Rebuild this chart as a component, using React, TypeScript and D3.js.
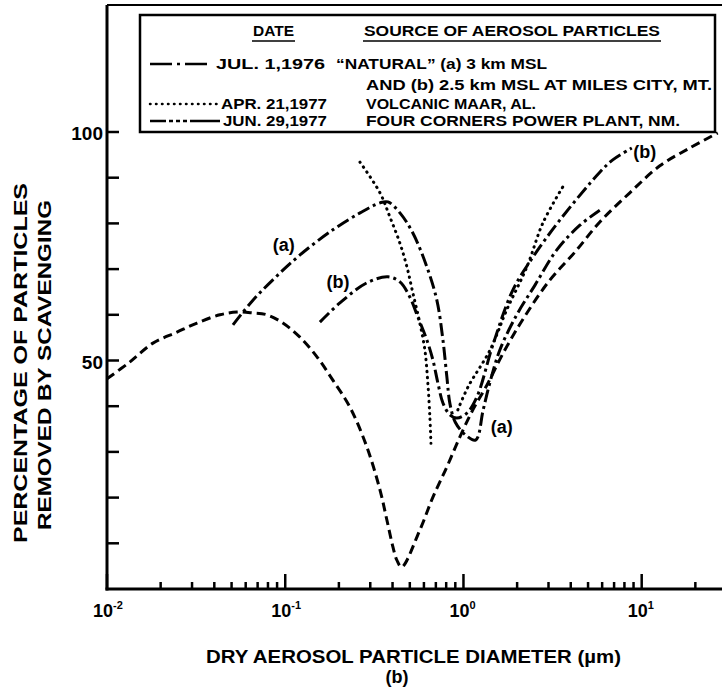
import React from "react";
import * as d3 from "d3";

// ---- data (diameter in µm, percentage removed) ----
const xTickExponents = ["-2", "-1", "0", "1"];
const yTickValues = [10, 20, 30, 40, 50, 60, 70, 80, 90, 100];
const yTickLabels = [50, 100];

// JUL. 1, 1976 — "NATURAL" (a) 3 km MSL
const jul76a: [number, number][] = [
  [0.0509, 57.8], [0.0659, 63.2], [0.0876, 68.1], [0.121, 73.1], [0.185, 78.6],
  [0.263, 82.3], [0.34, 84.5], [0.377, 84.7], [0.44, 82.3], [0.52, 77.9],
  [0.623, 70.5], [0.709, 63.2], [0.767, 54.5], [0.807, 46.4], [0.84, 40.5],
  [0.9, 36.5], [1.02, 33.8], [1.17, 32.6], [1.29, 39.2], [1.41, 45.3],
  [1.6, 52.3], [1.99, 60.0], [2.52, 66.5], [3.34, 74.2], [4.5, 79.6], [5.82, 82.9],
];
// JUL. 1, 1976 — (b) 2.5 km MSL
const jul76b: [number, number][] = [
  [0.1565, 58.4], [0.2026, 62.6], [0.287, 67.0], [0.377, 68.3], [0.44, 67.2],
  [0.5, 63.9], [0.555, 59.5], [0.623, 54.5], [0.674, 50.1], [0.7185, 45.1],
  [0.767, 40.7], [0.839, 38.1], [0.918, 37.4], [1.045, 38.5], [1.189, 42.0],
  [1.462, 53.4], [1.892, 65.4], [2.45, 72.6], [3.47, 80.7], [5.82, 91.2],
  [6.88, 93.9], [8.8, 96.5],
];
// APR. 21, 1977 — Volcanic Maar, AL (two branches)
const volcanicLeft: [number, number][] = [
  [0.2626, 93.4], [0.34, 86.7], [0.3866, 81.4], [0.4397, 75.7], [0.4816, 70.5],
  [0.52, 64.8], [0.569, 58.2], [0.6074, 52.3], [0.631, 45.1], [0.648, 37.6], [0.657, 31.9],
];
const volcanicRight: [number, number][] = [
  [0.93, 39.2], [1.06, 44.2], [1.41, 52.3], [1.75, 61.1], [2.27, 70.5], [2.79, 80.1], [3.61, 88.0],
];
// JUN. 29, 1977 — Four Corners Power Plant, NM
const jun77: [number, number][] = [
  [0.01, 46.0], [0.01346, 49.7], [0.01811, 53.8], [0.0247, 56.2], [0.032, 58.2],
  [0.043, 60.0], [0.0536, 60.6], [0.0659, 60.4], [0.0789, 60.0], [0.097, 58.2],
  [0.1209, 55.1], [0.1507, 50.8], [0.185, 45.7], [0.2306, 39.8], [0.287, 31.1],
  [0.34, 21.7], [0.3718, 15.1], [0.402, 9.2], [0.423, 6.3], [0.45, 4.8],
  [0.569, 12.9], [0.674, 20.1], [0.807, 26.7], [0.955, 33.3], [1.129, 39.2],
  [1.353, 44.6], [1.707, 52.3], [2.211, 59.7], [3.052, 67.6], [4.215, 73.7],
  [5.821, 80.3], [8.575, 86.7], [12.64, 92.6], [18.61, 96.5], [26.7, 99.8],
];

const curveLabels: { text: string; d: number; v: number }[] = [
  { text: "(a)", d: 0.098, v: 75 },
  { text: "(b)", d: 0.1975, v: 67 },
  { text: "(a)", d: 1.64, v: 35.2 },
  { text: "(b)", d: 10.4, v: 95.4 },
];

const FONT = "'Liberation Sans', Arial, sans-serif";
const DASH_DOT = "13 4 3 4";
const DOTTED = "0.5 5.5";
const DASHED = "9 5";

export default function App() {
  const W = 722;
  const H = 688;
  const x = d3.scaleLog().domain([0.01, 27.5]).range([107, 720]);
  const y = d3.scaleLinear().domain([0, 100]).range([589, 132]);
  const x0 = x(0.01);
  const y0 = y(0);
  const yTop = y(127.8);

  const line = d3
    .line<[number, number]>()
    .x((d) => x(d[0]))
    .y((d) => y(d[1]))
    .curve(d3.curveCatmullRom.alpha(0.5));

  const xTicks = x.ticks();
  const isMajor = (t: number) => Math.abs(Math.log10(t) - Math.round(Math.log10(t))) < 1e-6;

  const curveStyle = { fill: "none", stroke: "#000", strokeWidth: 3 };

  return (
    <svg
      width={W}
      height={H}
      style={{ position: "absolute", left: 0, top: 0, background: "#fff" }}
      fontFamily={FONT}
      fontWeight="bold"
    >
      <rect x={0} y={0} width={W} height={H} fill="#fff" />

      {/* curves */}
      <path d={line(jun77) || ""} {...curveStyle} strokeDasharray={DASHED} />
      <path d={line(jul76a) || ""} {...curveStyle} strokeDasharray={DASH_DOT} />
      <path d={line(jul76b) || ""} {...curveStyle} strokeDasharray={DASH_DOT} />
      <path d={line(volcanicLeft) || ""} {...curveStyle} strokeDasharray={DOTTED} strokeLinecap="round" />
      <path d={line(volcanicRight) || ""} {...curveStyle} strokeDasharray={DOTTED} strokeLinecap="round" />

      {/* curve labels */}
      {curveLabels.map((l, i) => (
        <text key={i} x={x(l.d)} y={y(l.v)} fontSize={18} textAnchor="middle" dominantBaseline="middle">
          {l.text}
        </text>
      ))}

      {/* frame / axes */}
      <line x1={x0} y1={yTop} x2={W} y2={yTop} stroke="#000" strokeWidth={2} />
      <line x1={x0} y1={yTop} x2={x0} y2={y0 + 1.5} stroke="#000" strokeWidth={3} />
      <line x1={x0 - 1.5} y1={y0} x2={W} y2={y0} stroke="#000" strokeWidth={3} />

      {/* y ticks */}
      {yTickValues.map((v) => (
        <line key={v} x1={x0} y1={y(v)} x2={x0 + 12} y2={y(v)} stroke="#000" strokeWidth={2.5} />
      ))}
      {yTickLabels.map((v) => (
        <text key={v} x={x0 - 4} y={y(v) + 3} fontSize={19} textAnchor="end" dominantBaseline="middle">
          {v}
        </text>
      ))}

      {/* x ticks */}
      {xTicks.map((t, i) => (
        <line
          key={i}
          x1={x(t)}
          y1={y0}
          x2={x(t)}
          y2={y0 - (isMajor(t) ? 15 : 7)}
          stroke="#000"
          strokeWidth={2.5}
        />
      ))}
      {xTickExponents.map((e) => (
        <text key={e} x={x(Math.pow(10, +e)) - 14} y={617} fontSize={18}>
          <tspan>10</tspan>
          <tspan dy={-8} fontSize={11}>{e}</tspan>
        </text>
      ))}

      {/* axis titles */}
      <text
        transform={`translate(22,363) rotate(-90)`}
        fontSize={19}
        textAnchor="middle"
        dominantBaseline="middle"
        textLength={360}
        lengthAdjust="spacingAndGlyphs"
      >
        PERCENTAGE OF PARTICLES
      </text>
      <text
        transform={`translate(46,365) rotate(-90)`}
        fontSize={19}
        textAnchor="middle"
        dominantBaseline="middle"
        textLength={330}
        lengthAdjust="spacingAndGlyphs"
      >
        REMOVED BY SCAVENGING
      </text>
      <text x={206} y={663} fontSize={18} textLength={415} lengthAdjust="spacingAndGlyphs">
        DRY AEROSOL PARTICLE DIAMETER (µm)
      </text>
      <text x={397} y={683} fontSize={18} textAnchor="middle">
        (b)
      </text>

      {/* legend */}
      <rect x={140} y={15} width={575} height={117} fill="#fff" stroke="#000" strokeWidth={2.5} />
      <g fontSize={14}>
        <text x={253} y={36} textLength={41} lengthAdjust="spacingAndGlyphs">DATE</text>
        <line x1={252} y1={41} x2={295} y2={41} stroke="#000" strokeWidth={1.5} />
        <text x={364} y={36} textLength={296} lengthAdjust="spacingAndGlyphs">SOURCE OF AEROSOL PARTICLES</text>
        <line x1={363} y1={41} x2={661} y2={41} stroke="#000" strokeWidth={1.5} />

        <line x1={150} y1={64} x2={212} y2={64} stroke="#000" strokeWidth={2.5} strokeDasharray="22 5 3 5" />
        <text x={216} y={69} textLength={109} lengthAdjust="spacingAndGlyphs">JUL.  1,1976</text>
        <text x={336} y={69} textLength={211} lengthAdjust="spacingAndGlyphs">“NATURAL” (a) 3 km MSL</text>
        <text x={366} y={90} textLength={346} lengthAdjust="spacingAndGlyphs">AND (b) 2.5 km MSL AT MILES CITY, MT.</text>

        <line x1={150} y1={104} x2={218} y2={104} stroke="#000" strokeWidth={2.5} strokeDasharray={DOTTED} strokeLinecap="round" />
        <text x={221} y={109} textLength={106} lengthAdjust="spacingAndGlyphs">APR. 21,1977</text>
        <text x={366} y={109} textLength={170} lengthAdjust="spacingAndGlyphs">VOLCANIC MAAR, AL.</text>

        <line x1={150} y1={121} x2={220} y2={121} stroke="#000" strokeWidth={2.5} strokeDasharray="16 3 4 3 4 3 4 3 30" />
        <text x={223} y={126} textLength={104} lengthAdjust="spacingAndGlyphs">JUN. 29,1977</text>
        <text x={366} y={126} textLength={314} lengthAdjust="spacingAndGlyphs">FOUR CORNERS POWER PLANT, NM.</text>
      </g>
    </svg>
  );
}
